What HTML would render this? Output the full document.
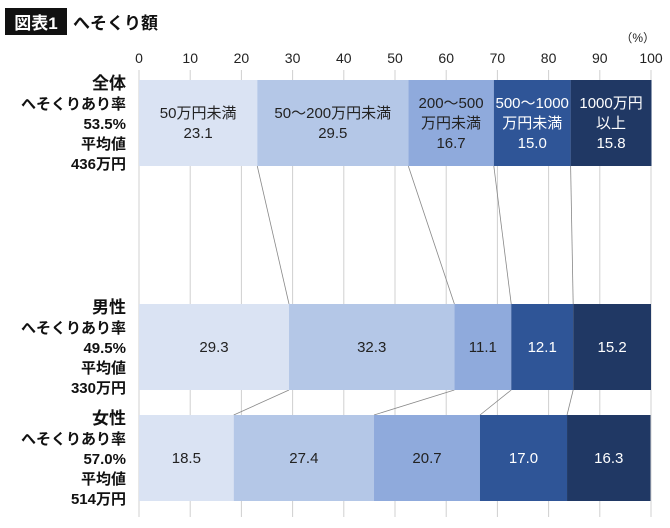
<!DOCTYPE html>
<html><head><meta charset="utf-8"><style>
body{margin:0;width:670px;height:523px;background:#fff;overflow:hidden;font-family:"Liberation Sans","Noto Sans CJK JP",sans-serif}
svg text{font-family:"Liberation Sans","Noto Sans CJK JP",sans-serif}
</style></head><body>
<svg id="c" width="670" height="523" xmlns="http://www.w3.org/2000/svg">
<rect x="5" y="8" width="62" height="27" fill="#111"/>
<text x="36" y="29" fill="#fff" font-size="17" font-weight="bold" text-anchor="middle">図表1</text>
<text x="73" y="29" fill="#111" font-size="17" font-weight="bold">へそくり額</text>
<text x="655" y="42" fill="#222" font-size="12" text-anchor="end">（%）</text>
<g id="grid"></g><g id="links"></g><g id="bars"></g><g id="labels"></g>
</svg>
<script>
const groups=["全体","男性","女性"];
const rates=["53.5%","49.5%","57.0%"];
const avgs=["436万円","330万円","514万円"];
const s1=[23.1,29.3,18.5];
const s2=[29.5,32.3,27.4];
const s3=[16.7,11.1,20.7];
const s4=[15.0,12.1,17.0];
const s5=[15.8,15.2,16.3];
const ticks=[0,10,20,30,40,50,60,70,80,90,100];
const catNames=[["50万円未満"],["50〜200万円未満"],["200〜500","万円未満"],["500〜1000","万円未満"],["1000万円","以上"]];
const colors=["#dae3f3","#b4c7e7","#8faadc","#2f5597","#203864"];
const txt=["#222","#222","#222","#fff","#fff"];
const NS="http://www.w3.org/2000/svg";
const x=v=>139+v*5.12;
const barY=[80,304,415],barH=86;
function mk(t,a,p){const e=document.createElementNS(NS,t);for(const k in a)e.setAttribute(k,a[k]);p.appendChild(e);return e;}
const G=document.getElementById('grid'),L=document.getElementById('links'),B=document.getElementById('bars'),T=document.getElementById('labels');
ticks.forEach(t=>{
 const l=mk('line',{x1:x(t),x2:x(t),y1:70,y2:517,stroke:'#d0d0d0','stroke-width':1},G);
 
 
 const tx=mk('text',{x:x(t),y:63,'font-size':14,'text-anchor':'middle',fill:'#222'},G);
 tx.textContent=t;
 
 
});
const series=[s1,s2,s3,s4,s5];
const cum=groups.map((g,i)=>{let c=0;return series.map(s=>c+=s[i]);});
for(let i=0;i<2;i++)for(let k=0;k<4;k++){
 const l=mk('line',{x1:x(cum[i][k]),y1:barY[i]+barH,x2:x(cum[i+1][k]),y2:barY[i+1],stroke:'#888','stroke-width':0.8},L);
 
 
}
groups.forEach((g,i)=>{
 let c=0;
 series.forEach((s,k)=>{
  const v=s[i];
  const r=mk('rect',{x:x(c),y:barY[i],width:x(c+v)-x(c),height:barH,fill:colors[k]},B);
  
  
  const cx=x(c+v/2),cy=barY[i]+barH/2;
  let lines=i===0?catNames[k].concat([v.toFixed(1)]):[v.toFixed(1)];
  const st=cy-(lines.length-1)*10+5;
  lines.forEach((ln,j)=>{
   const t=mk('text',{x:cx,y:st+j*20,'font-size':15,'text-anchor':'middle',fill:txt[k]},B);
   t.textContent=ln;
   
   
  });
  c+=v;
 });
 const ls=[g,"へそくりあり率",rates[i],"平均値",avgs[i]];
 ls.forEach((ln,j)=>{
  const t=mk('text',{x:126,y:barY[i]+9+j*20,'font-size':j===0?17:15,'font-weight':'bold','text-anchor':'end',fill:'#111'},T);
  t.textContent=ln;
  
  
 });
});
</script>
</body></html>
